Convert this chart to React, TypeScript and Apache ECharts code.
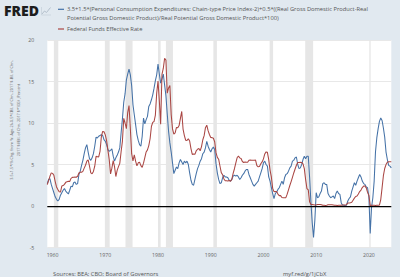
import React, { useEffect, useRef } from "react";
import * as echarts from "echarts";

// Quarterly observations, first quarter of 1959 onwards
const FIRST_YEAR = 1959;

// 3.5+1.5*(PCE inflation-2)+0.5*(output gap), percent
const taylorRule = [
  2.7, 3.2, 3.3, 2.6, 2.1, 1.6, 1.1, 0.8, 0.6, 0.8, 1.3, 1.6, 1.9, 2.1, 1.8, 1.6,
  1.45, 1.9, 2.4, 2.3, 2.8, 2.9, 2.6, 2.7, 3.8, 4.2, 4.9, 5.5, 6.3, 7.0, 7.4, 6.5,
  5.7, 5.5, 5.8, 6.3, 7.2, 8.3, 8.2, 8.4, 8.5, 8.6, 8.5, 8.0, 7.8, 7.4, 6.8, 6.6,
  6.7, 6.9, 6.0, 5.4, 5.8, 6.1, 6.5, 7.0, 8.8, 10.5, 12.5, 13.5, 15.2, 15.9, 16.5, 15.8,
  14.5, 12.2, 11.0, 9.8, 8.6, 7.9, 7.4, 7.2, 8.4, 10.6, 9.9, 10.4, 10.8, 12.0, 12.3, 12.8,
  13.4, 14.2, 15.1, 15.8, 17.1, 15.9, 14.8, 15.3, 15.9, 14.6, 13.3, 11.1, 9.0, 7.6, 6.5, 5.2,
  3.9, 4.3, 4.7, 4.5, 5.2, 5.6, 5.3, 5.0, 5.4, 5.2, 5.4, 5.0, 4.0, 3.1, 2.6, 2.5,
  3.2, 3.9, 4.5, 4.9, 5.4, 5.7, 6.3, 6.5, 7.0, 7.8, 7.2, 6.8, 6.5, 6.9, 7.1, 6.8,
  5.1, 4.0, 3.2, 2.7, 2.8, 3.4, 3.7, 3.5, 3.5, 3.4, 3.1, 3.0, 3.2, 3.6, 3.7, 3.6,
  3.7, 3.5, 3.2, 3.4, 3.7, 3.9, 4.2, 4.4, 4.4, 3.8, 3.4, 3.0, 2.6, 2.4, 2.6, 2.8,
  3.0, 3.5, 4.0, 4.5, 5.2, 5.4, 5.0, 4.8, 3.5, 3.0, 2.2, 1.5, 0.9, 1.5, 1.7, 2.0,
  2.2, 2.6, 3.0, 2.6, 3.4, 3.8, 3.9, 4.2, 4.6, 4.8, 5.4, 5.5, 5.8, 5.9, 5.0, 4.5,
  4.6, 5.0, 5.6, 6.0, 5.7, 6.0, 6.0, 3.5, 0.5, -2.0, -3.8, -1.7, 1.6, 1.0, 1.1, 1.5,
  1.8, 2.7, 2.8, 2.6, 2.6, 1.5, 1.2, 1.0, 1.1, 1.2, 0.9, 1.5, 1.8, 1.5, 1.4, 0.4,
  0.1, 0.1, 0.0, 0.1, 0.6, 0.9, 1.1, 1.8, 2.3, 2.8, 2.5, 3.0, 3.4, 3.8, 3.5, 3.0,
  2.7, 2.6, 2.3, 2.2, 1.1, -3.3, -0.2, 1.0, 3.0, 6.5, 8.2, 9.3, 10.2, 10.6, 10.3, 9.4,
  8.3, 6.5, 5.6, 4.9, 4.8, 4.6,
];

// Federal Funds Effective Rate, percent
const fedFunds = [
  2.57, 3.08, 3.58, 3.99, 3.93, 3.7, 2.94, 2.3, 2.0, 1.73, 1.68, 2.4, 2.46, 2.61, 2.85, 2.92,
  2.97, 2.96, 3.33, 3.45, 3.46, 3.49, 3.46, 3.58, 3.97, 4.08, 4.07, 4.17, 4.56, 4.91, 5.41, 5.56,
  4.82, 3.99, 3.89, 4.17, 4.79, 5.98, 5.94, 5.92, 6.57, 8.33, 8.98, 8.94, 8.57, 7.88, 6.7, 5.57,
  3.86, 4.56, 5.47, 4.75, 3.55, 4.3, 4.74, 5.14, 6.54, 7.82, 10.56, 10.0, 9.32, 11.25, 12.09, 9.35,
  6.3, 5.42, 6.16, 5.41, 4.83, 5.2, 5.28, 4.87, 4.66, 5.16, 5.82, 6.51, 6.76, 7.28, 8.1, 9.58,
  10.07, 10.18, 10.95, 13.58, 15.05, 12.69, 9.84, 15.85, 16.57, 17.78, 17.58, 13.59, 14.23, 14.51, 11.01, 9.29,
  8.65, 8.8, 9.46, 9.43, 9.69, 10.56, 11.39, 9.27, 8.48, 7.92, 7.9, 8.1, 7.83, 6.92, 6.21, 6.27,
  6.22, 6.65, 6.84, 6.92, 6.66, 7.16, 7.98, 8.47, 9.44, 9.73, 9.08, 8.61, 8.25, 8.24, 8.16, 7.74,
  6.43, 5.86, 5.64, 4.82, 4.02, 3.77, 3.26, 3.04, 3.04, 3.0, 3.06, 2.99, 3.21, 3.94, 4.49, 5.17,
  5.81, 6.02, 5.8, 5.72, 5.36, 5.24, 5.31, 5.28, 5.28, 5.52, 5.53, 5.51, 5.52, 5.5, 5.53, 4.86,
  4.73, 4.75, 5.09, 5.31, 5.68, 6.27, 6.52, 6.47, 5.59, 4.33, 3.5, 2.13, 1.73, 1.75, 1.74, 1.44,
  1.25, 1.25, 1.02, 1.0, 1.0, 1.01, 1.43, 1.95, 2.47, 2.94, 3.46, 3.98, 4.46, 4.91, 5.25, 5.25,
  5.26, 5.25, 5.07, 4.5, 3.18, 2.09, 1.94, 0.51, 0.18, 0.18, 0.16, 0.12, 0.13, 0.19, 0.19, 0.19,
  0.16, 0.09, 0.08, 0.07, 0.1, 0.15, 0.14, 0.16, 0.14, 0.12, 0.08, 0.09, 0.07, 0.09, 0.09, 0.1,
  0.11, 0.12, 0.13, 0.16, 0.36, 0.37, 0.39, 0.45, 0.7, 0.95, 1.15, 1.2, 1.45, 1.74, 1.92, 2.22,
  2.4, 2.4, 2.19, 1.64, 1.26, 0.06, 0.09, 0.09, 0.08, 0.07, 0.09, 0.08, 0.12, 0.77, 2.19, 3.65,
  4.52, 4.99, 5.26, 5.33, 5.33, 5.33,
];

// US recessions (start, end) in decimal years
const recessions: [number, number][] = [
  [1960.25, 1961.08],
  [1969.92, 1970.83],
  [1973.83, 1975.17],
  [1980.0, 1980.5],
  [1981.5, 1982.83],
  [1990.5, 1991.17],
  [2001.17, 2001.83],
  [2007.92, 2009.42],
  [2020.08, 2020.33],
];

const yearTicks = [1960, 1970, 1980, 1990, 2000, 2010, 2020];
const valueTicks = { min: -5, max: 20, step: 5 };

const BLUE = "#4572a7";
const RED = "#aa4643";
const FONT = '"Open Sans", "DejaVu Sans", sans-serif';

const TAYLOR_NAME =
  "3.5+1.5*(Personal Consumption Expenditures: Chain-type Price Index-2)+0.5*((Real Gross Domestic Product-Real Potential Gross Domestic Product)/Real Potential Gross Domestic Product*100)";
const FEDFUNDS_NAME = "Federal Funds Effective Rate";

const toPoints = (values: number[]) =>
  values.map((v, i) => [FIRST_YEAR + i / 4, v]);

// Small caption text placed by its left edge and vertical middle
const caption = (x: number, y: number, text: string, size = 5.75) => ({
  type: "text",
  x,
  y,
  style: {
    text,
    fontSize: size,
    fontFamily: FONT,
    fill: "#555",
    verticalAlign: "middle",
  },
});

// Rotated y-axis title line
const axisTitle = (x: number, text: string) => ({
  type: "text",
  x,
  y: 120,
  rotation: Math.PI / 2,
  style: {
    text,
    fontSize: 3.8,
    fontFamily: FONT,
    fill: "#666",
    align: "center",
    verticalAlign: "middle",
  },
});

export default function App() {
  const ref = useRef<HTMLDivElement>(null);

  useEffect(() => {
    if (!ref.current) return;
    const chart = echarts.init(ref.current, undefined, { renderer: "svg" });
    const lastX = FIRST_YEAR + (taylorRule.length - 1) / 4;

    chart.setOption({
      animation: false,
      backgroundColor: "#e1e9f0",
      grid: {
        left: 47.3,
        right: 8.7,
        top: 40,
        bottom: 29.5,
        show: true,
        backgroundColor: "#ffffff",
        borderWidth: 0,
      },
      xAxis: {
        type: "value",
        min: FIRST_YEAR,
        max: lastX,
        axisLine: { show: false },
        axisTick: { show: false },
        splitLine: { show: false },
        axisLabel: {
          customValues: yearTicks,
          formatter: (v: number) => String(Math.round(v)),
          fontSize: 5.2,
          fontFamily: FONT,
          color: "#666",
          margin: 5,
        },
      },
      yAxis: {
        type: "value",
        min: valueTicks.min,
        max: valueTicks.max,
        interval: valueTicks.step,
        axisLine: { show: false },
        axisTick: { show: false },
        splitLine: { lineStyle: { color: "#e8e8e8", width: 1 } },
        axisLabel: {
          fontSize: 5.2,
          fontFamily: FONT,
          color: "#666",
          margin: 13,
        },
      },
      series: [
        {
          type: "line",
          name: "recessions",
          data: [],
          z: 1,
          silent: true,
          markArea: {
            silent: true,
            itemStyle: { color: "#e6e6e6" },
            data: recessions.map(([a, b]) => [{ xAxis: a }, { xAxis: b }]),
          },
        },
        {
          type: "line",
          name: TAYLOR_NAME,
          data: toPoints(taylorRule),
          showSymbol: false,
          z: 3,
          lineStyle: { color: BLUE, width: 1.05 },
          itemStyle: { color: BLUE },
        },
        {
          type: "line",
          name: FEDFUNDS_NAME,
          data: toPoints(fedFunds),
          showSymbol: false,
          z: 4,
          lineStyle: { color: RED, width: 1.05 },
          itemStyle: { color: RED },
          markLine: {
            silent: true,
            symbol: "none",
            label: { show: false },
            lineStyle: { color: "#000", width: 1.25, type: "solid" },
            data: [{ yAxis: 0 }],
          },
        },
      ],
      graphic: [
        {
          type: "text",
          x: 4,
          y: 3,
          style: {
            text: "FRED",
            fontSize: 14,
            fontWeight: 800,
            fontFamily: FONT,
            fill: "#1d1d1d",
          },
        },
        {
          type: "polyline",
          shape: { points: [[42, 14], [44.5, 11], [46.5, 12.5], [50.5, 7.5]] },
          style: { stroke: "#b4c0cc", lineWidth: 1, fill: "none" },
        },
        {
          type: "polyline",
          shape: { points: [[41.5, 7], [41.5, 15], [51, 15]] },
          style: { stroke: "#c8d2dc", lineWidth: 0.8, fill: "none" },
        },
        {
          type: "line",
          shape: { x1: 58, y1: 9.3, x2: 64, y2: 9.3 },
          style: { stroke: BLUE, lineWidth: 1.2 },
        },
        caption(
          67,
          9.3,
          "3.5+1.5*(Personal Consumption Expenditures: Chain-type Price Index-2)+0.5*((Real Gross Domestic Product-Real"
        ),
        caption(
          67,
          17.6,
          "Potential Gross Domestic Product)/Real Potential Gross Domestic Product*100)"
        ),
        {
          type: "line",
          shape: { x1: 58, y1: 29, x2: 64, y2: 29 },
          style: { stroke: RED, lineWidth: 1.2 },
        },
        caption(67, 29, FEDFUNDS_NAME),
        axisTitle(
          11,
          "3.5+1.5*(% Chg. from Yr. Ago-2)+0.5*((Bil. of Chn. 2017 $-Bil. of Chn."
        ),
        axisTitle(18, "2017 $)/Bil. of Chn. 2017 $*100) , Percent"),
        caption(53, 273.5, "Sources: BEA; CBO; Board of Governors"),
        caption(283, 273.5, "myf.red/g/1jCbX"),
      ],
    });

    return () => chart.dispose();
  }, []);

  return (
    <div
      ref={ref}
      style={{ position: "fixed", left: 0, top: 0, width: 400, height: 277 }}
    />
  );
}
